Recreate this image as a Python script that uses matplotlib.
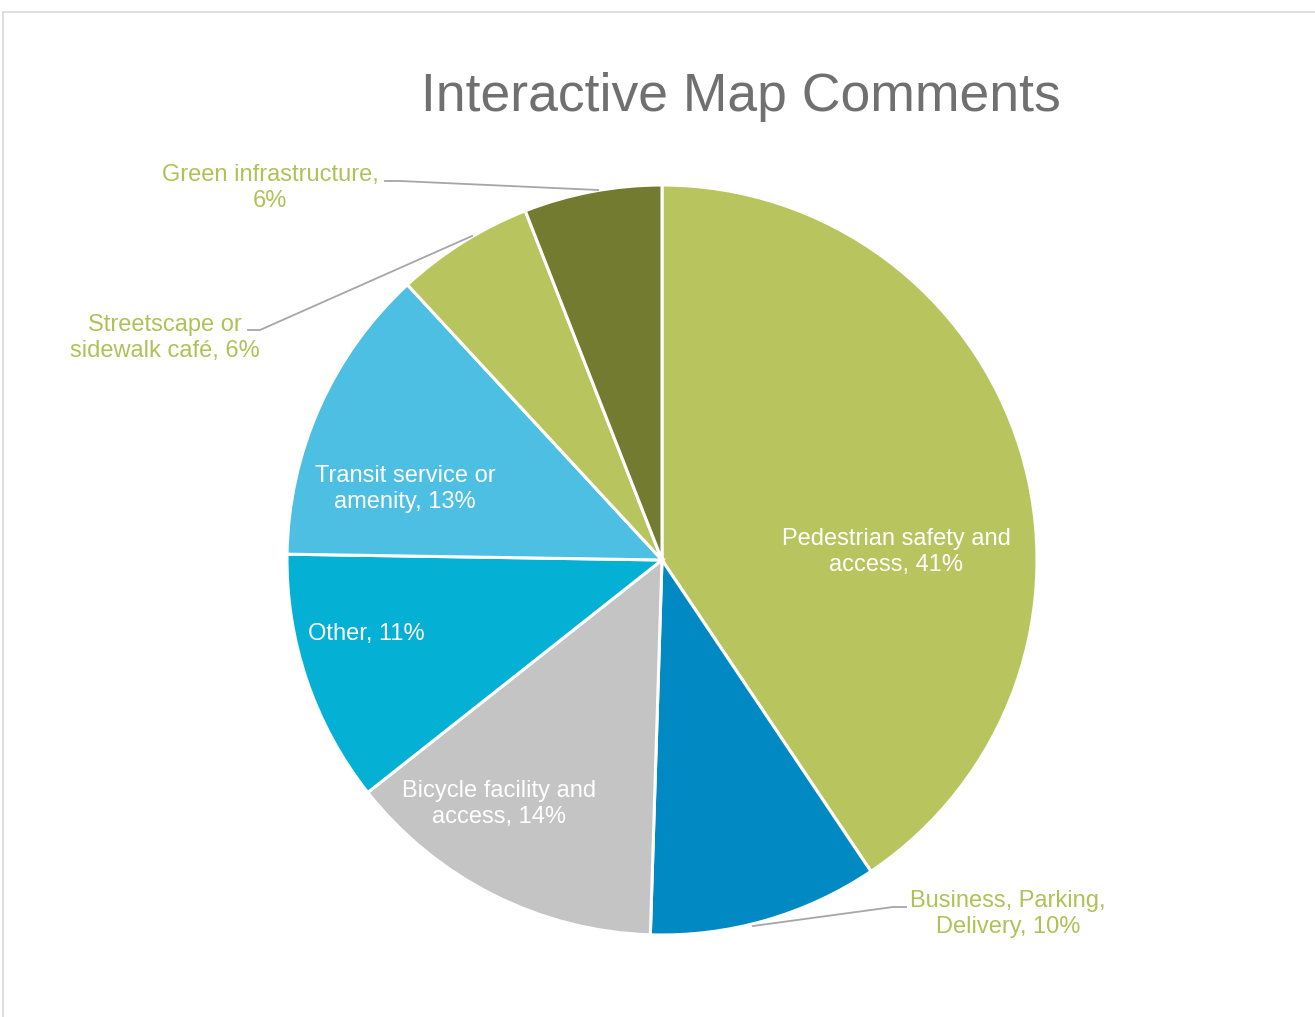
import matplotlib
matplotlib.use("Agg")
import matplotlib.pyplot as plt
from matplotlib.lines import Line2D

# --- data ---------------------------------------------------------------
categories = [
    "Pedestrian safety and\naccess",
    "Business, Parking,\nDelivery",
    "Bicycle facility and\naccess",
    "Other",
    "Transit service or\namenity",
    "Streetscape or\nsidewalk café",
    "Green infrastructure,\n",
]
percentages = [41, 10, 14, 11, 13, 6, 6]
colors = ["#B8C55F", "#0089C2", "#C4C4C4", "#05B0D5", "#4CBFE2", "#B8C55F", "#737B30"]

title = "Interactive Map Comments"

# --- layout (pixels) ----------------------------------------------------
W, H, DPI = 1315, 1017, 100
cx, cy, R = 662, 560, 375

plt.rcParams["font.family"] = ["Liberation Sans", "DejaVu Sans"]

fig = plt.figure(figsize=(W / DPI, H / DPI), dpi=DPI)
fig.patch.set_facecolor("white")

ax = fig.add_axes([(cx - R) / W, 1 - (cy + R) / H, 2 * R / W, 2 * R / H])
ax.set_aspect("equal")
ax.axis("off")

wedges, _ = ax.pie(
    percentages,
    colors=colors,
    startangle=90,
    counterclock=False,
    radius=1,
    wedgeprops=dict(edgecolor="white", linewidth=2.2),
)
ax.set_xlim(-1, 1)
ax.set_ylim(-1, 1)


def px(x, y):
    """Pixel position -> pie data coordinates."""
    return (x - cx) / R, (cy - y) / R


# label text: "<name>, NN%" (names with trailing newline put the value on line 2)
def label_text(name, pct):
    if name.endswith("\n"):
        return f"{name}{pct}%"
    return f"{name}, {pct}%"


label_pos = [(896, 552), (1008, 914), (499, 804), (366, 634), (405, 489), (165, 338), (270, 188)]
inside = [True, False, True, True, True, False, False]
outside_color = "#AFC257"

for name, pct, pos, ins in zip(categories, percentages, label_pos, inside):
    x, y = px(*pos)
    ax.text(
        x, y, label_text(name, pct),
        ha="center", va="center", fontsize=17, linespacing=1.2,
        color="white" if ins else outside_color, clip_on=False,
    )

# leader lines for labels placed outside the pie
leaders = [
    [(753, 926), (893, 907), (906, 907)],
    [(472, 236), (260, 330), (248, 330)],
    [(598, 190), (400, 181), (385, 181)],
]
for pts in leaders:
    xs, ys = zip(*[px(*p) for p in pts])
    ax.add_line(Line2D(xs, ys, color="#A6A6A6", linewidth=1.3, clip_on=False))

# title
fig.text(741 / W, 1 - 97 / H, title, ha="center", va="center",
         fontsize=38.5, color="#707070")

# chart-area border (top and left edges visible)
fig.add_artist(Line2D([3 / W, 1.0], [1 - 12 / H, 1 - 12 / H],
                      transform=fig.transFigure, color="#D9D9D9", linewidth=1.2))
fig.add_artist(Line2D([3 / W, 3 / W], [0.0, 1 - 12 / H],
                      transform=fig.transFigure, color="#D9D9D9", linewidth=1.2))

fig.savefig("out.png", dpi=DPI, facecolor="white")
